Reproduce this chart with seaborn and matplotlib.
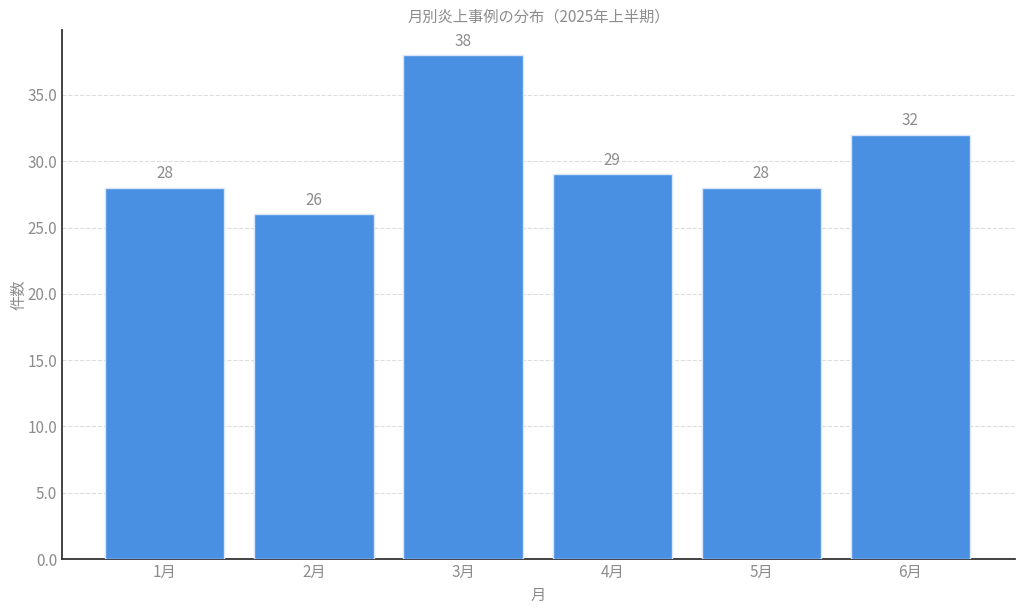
import matplotlib
matplotlib.use("Agg")
import matplotlib.pyplot as plt
import seaborn as sns
import pandas as pd

months = ["1月", "2月", "3月", "4月", "5月", "6月"]
counts = [28, 26, 38, 29, 28, 32]

sns.set_style("white")
plt.rcParams['font.family'] = ['Noto Sans CJK JP', 'DejaVu Sans']

df = pd.DataFrame({"月": months, "件数": counts})

fig = plt.figure(figsize=(10.24, 6.11), dpi=100)
ax = fig.add_axes([0.0605, 0.085, 0.9305, 0.866])

sns.barplot(data=df, x="月", y="件数", color="#4A90E2", saturation=1, width=0.8,
            edgecolor="#d8e6f7", linewidth=1, ax=ax, zorder=3)

txt = "#8c8c8c"
for i, v in enumerate(counts):
    ax.annotate(f"{v}", (i, v), xytext=(0, 4), textcoords="offset points",
                ha="center", va="bottom", fontsize=11, color=txt)

ax.set_xlim(-0.69, 5.7)
ax.set_ylim(0, 39.9)
ax.set_yticks([0, 5, 10, 15, 20, 25, 30, 35])
ax.set_yticklabels([f"{t:.1f}" for t in [0, 5, 10, 15, 20, 25, 30, 35]])
ax.yaxis.grid(True, linestyle="--", color="#dddddd", linewidth=0.8, zorder=0)
ax.set_axisbelow(True)

for s in ["top", "right"]:
    ax.spines[s].set_visible(False)
for s in ["left", "bottom"]:
    ax.spines[s].set_color("#333333")
    ax.spines[s].set_linewidth(1.3)

ax.tick_params(axis="both", direction="in", length=4, color="#333333", labelcolor=txt, labelsize=11)
ax.set_xlabel("月", color=txt, fontsize=11, labelpad=4)
ax.set_ylabel("件数", color=txt, fontsize=11, labelpad=0)
ax.set_title("月別炎上事例の分布（2025年上半期）", color=txt, fontsize=11, pad=6)

fig.savefig("out.png", dpi=100)
